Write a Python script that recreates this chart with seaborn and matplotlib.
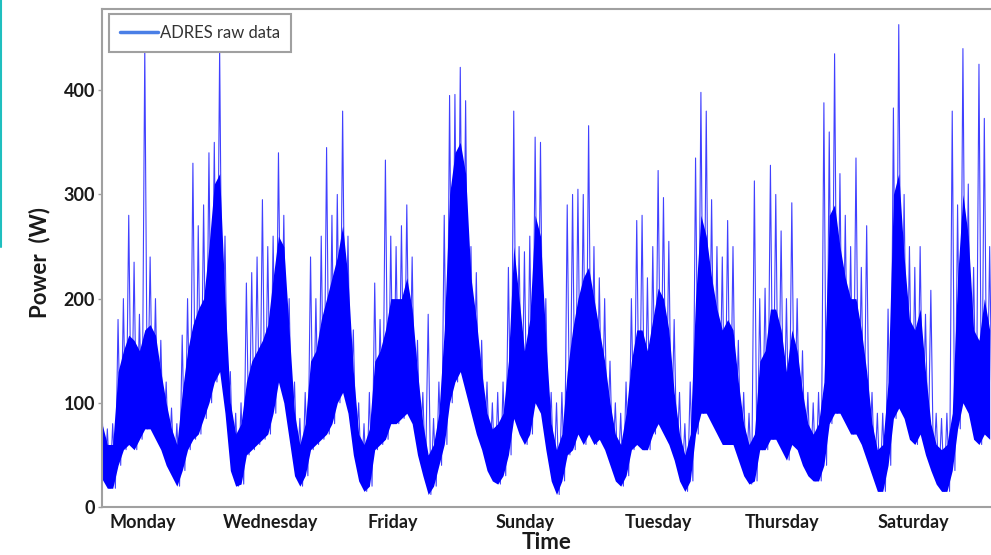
import numpy as np
import pandas as pd
import matplotlib.pyplot as plt
from matplotlib.lines import Line2D
import seaborn as sns

# two-hour samples (W): floor of the dense band, top of the band, spike tops
step_h = 2
lo = [27, 18, 18, 40, 55, 60, 55, 65, 75, 75, 65, 55, 40, 30, 20, 35, 55, 65, 70, 85,
      100, 120, 130, 90, 35, 20, 22, 50, 55, 60, 65, 70, 90, 120, 100, 65, 30, 20, 30, 55,
      60, 65, 70, 80, 100, 110, 90, 50, 25, 15, 20, 55, 60, 65, 80, 80, 85, 90, 80, 50,
      30, 12, 20, 40, 60, 100, 120, 130, 110, 90, 70, 55, 35, 25, 22, 30, 50, 85, 70, 60,
      70, 100, 90, 55, 25, 12, 25, 50, 55, 70, 60, 70, 60, 65, 55, 40, 25, 20, 30, 55,
      60, 55, 55, 70, 80, 70, 60, 45, 25, 15, 25, 70, 90, 90, 80, 70, 60, 60, 60, 45,
      30, 22, 25, 55, 55, 65, 65, 55, 45, 60, 55, 40, 30, 25, 25, 40, 80, 90, 90, 80,
      70, 70, 60, 45, 30, 15, 15, 40, 85, 95, 85, 65, 60, 70, 50, 35, 22, 15, 15, 35,
      75, 100, 90, 65, 60, 70, 65]
mid = [80, 60, 60, 130, 150, 165, 160, 150, 170, 175, 165, 130, 100, 75, 60, 110, 150, 175, 190, 200,
       250, 310, 320, 200, 100, 70, 80, 120, 140, 150, 160, 175, 220, 260, 250, 170, 90, 60, 80, 140,
       150, 180, 200, 220, 240, 270, 220, 130, 70, 60, 75, 140, 150, 170, 200, 200, 200, 220, 190, 130,
       80, 50, 60, 90, 170, 300, 340, 350, 320, 220, 180, 130, 90, 75, 80, 90, 140, 250, 200, 150,
       180, 280, 260, 160, 80, 55, 70, 130, 170, 200, 220, 230, 200, 170, 140, 100, 70, 60, 90, 140,
       170, 170, 150, 180, 210, 200, 170, 110, 70, 50, 70, 200, 280, 260, 220, 190, 170, 180, 170, 120,
       80, 60, 70, 140, 150, 190, 190, 170, 130, 170, 150, 110, 80, 70, 80, 120, 280, 290, 250, 220,
       200, 200, 170, 130, 80, 55, 60, 120, 300, 320, 240, 180, 170, 190, 130, 80, 60, 55, 60, 90,
       220, 300, 260, 170, 160, 200, 170]
hi = [92, 75, 80, 180, 200, 280, 235, 185, 440, 240, 200, 160, 120, 95, 80, 165, 200, 330, 270, 290,
      340, 350, 440, 260, 130, 90, 100, 215, 225, 240, 295, 250, 260, 340, 280, 200, 120, 85, 110, 240,
      200, 260, 345, 280, 300, 380, 260, 170, 100, 80, 110, 215, 180, 333, 260, 250, 270, 290, 240, 160,
      110, 185, 85, 120, 280, 395, 396, 422, 390, 250, 225, 160, 120, 100, 110, 120, 230, 380, 250, 245,
      260, 355, 350, 200, 110, 100, 110, 290, 300, 305, 300, 366, 250, 220, 200, 140, 100, 90, 120, 200,
      275, 280, 220, 250, 323, 297, 255, 180, 110, 80, 120, 335, 398, 380, 295, 250, 240, 275, 250, 160,
      110, 90, 313, 200, 210, 328, 300, 265, 200, 292, 200, 150, 110, 100, 110, 388, 360, 435, 320, 280,
      250, 335, 230, 270, 110, 90, 90, 190, 383, 463, 300, 250, 230, 250, 185, 208, 90, 85, 90, 380,
      290, 440, 310, 230, 425, 373, 250]

day_labels = ["Monday", "Wednesday", "Friday", "Sunday", "Tuesday", "Thursday", "Saturday"]
day_hours = [15.3, 63.2, 108.9, 158.2, 208.0, 254.4, 303.4]
power_ticks = [0, 100, 200, 300, 400]

t = np.arange(len(lo)) * step_h
# spike top on the sample hour, back down to the band floor one hour later
raw = pd.DataFrame({
    'hour': np.column_stack([t, t + 1]).ravel(),
    'power': np.column_stack([hi, lo]).ravel(),
})

sns.set_style('white')
plt.rcParams['font.family'] = ['Lato', 'DejaVu Sans']

fig = plt.figure(figsize=(9.91, 5.55), dpi=100)
ax = fig.add_axes([102 / 991, 1 - 507 / 555, 889 / 991, 498 / 555])

ax.fill_between(t, lo, mid, color='#0000ff', lw=0)
sns.lineplot(data=raw, x='hour', y='power', ax=ax, estimator=None,
             color='#0000ff', lw=0.8, alpha=0.75, legend=False)

ax.set_xlim(0, 332.5)
ax.set_ylim(0, 478)
ax.set_xticks(day_hours)
ax.set_xticklabels(day_labels, fontsize=13, fontweight='bold', color='#1a1a1a')
ax.set_yticks(power_ticks)
ax.set_yticklabels([str(v) for v in power_ticks], fontsize=13, fontweight='bold', color='#1a1a1a')
ax.tick_params(axis='x', length=0, pad=5)
ax.tick_params(axis='y', length=3, width=1, color='#a0a0a0', pad=2, left=True)

ax.set_xlabel('Time', fontsize=16, fontweight='bold', color='#1a1a1a')
ax.xaxis.set_label_coords(0.5, -0.05)
ax.set_ylabel('Power  (W)', fontsize=16, fontweight='bold', color='#1a1a1a')
ax.yaxis.set_label_coords(-0.058, 0.49)

for side in ['top', 'left', 'bottom']:
    ax.spines[side].set_color('#a0a0a0')
    ax.spines[side].set_linewidth(1.5)
ax.spines['right'].set_visible(False)

handle = Line2D([], [], color='#4a7fe6', lw=2.5)
leg = ax.legend([handle], ['ADRES raw data'], loc='upper left',
                bbox_to_anchor=(0.008, 0.99), borderaxespad=0, fontsize=12,
                handlelength=2.3, handletextpad=0.1, borderpad=0.65,
                fancybox=False, framealpha=1)
leg.get_frame().set_edgecolor('#a0a0a0')
leg.get_frame().set_linewidth(1.5)
for txt in leg.get_texts():
    txt.set_color('#333333')

# teal rule along the left edge of the figure
fig.add_artist(Line2D([0.0015, 0.0015], [1, 1 - 247 / 555], color='#1fbfbf', lw=1.5))

fig.savefig('out.png', dpi=100)
